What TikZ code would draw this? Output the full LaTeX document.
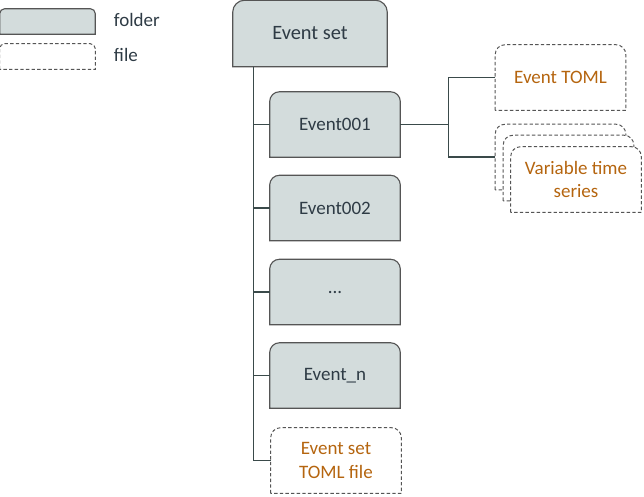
\documentclass[tikz,border=0pt]{standalone}
\usepackage{fontspec}
\setmainfont{Carlito}
\usepackage{xcolor}
\usetikzlibrary{positioning,calc,backgrounds}
\definecolor{foldfill}{HTML}{D3DCDC}
\definecolor{foldtext}{HTML}{2E3B45}
\definecolor{filetext}{HTML}{B5650F}
\definecolor{edgegray}{HTML}{555555}
\definecolor{treeline}{HTML}{3A4A4A}
\tikzset{%
	folder/.style = {rectangle, minimum width = 3.25cm, minimum height = 1.625cm,
		text = foldtext, align = center, font = \fontsize{13.5}{16.5}\selectfont},
	file/.style   = {folder, text = filetext},
	folderline/.style = {draw = edgegray, fill = foldfill, line width = 0.8pt},
	fileline/.style   = {draw = edgegray, fill = white, line width = 0.7pt,
		dash pattern = on 2.4pt off 1.6pt},
	tree/.style   = {draw = treeline, line width = 0.85pt}
}
\begin{document}
\begin{tikzpicture}[x=0.025cm, y=-0.025cm]
	\useasboundingbox (0,0) rectangle (644,496);
	% key
	\node [rectangle, minimum width=2.375cm, minimum height=0.625cm] (keyfolder) at (47.5,21.5) {};
	\node [rectangle, minimum width=2.375cm, minimum height=0.625cm] (keyfile) at (47.5,56.5) {};
	\node [anchor=west, text=foldtext, font=\fontsize{13.5}{16}\selectfont] (keyfoldertxt) at (109,20) {folder};
	\node [anchor=west, text=foldtext, font=\fontsize{13.5}{16}\selectfont] (keyfiletxt) at (109,55) {file};
	% tree of folders
	\node [folder, minimum width=3.85cm, minimum height=1.65cm, font=\fontsize{14.5}{17}\selectfont] (set) at (310,33.5) {\raisebox{-2pt}{Event set}};
	\node [folder] (ev1) at (335,124.5) {Event001};
	\node [folder] (ev2) at (335,208) {Event002};
	\node [folder] (dots) at (335,292) {...};
	\node [folder] (evn) at (335,375.5) {Event\_n};
	\node [file] (setfile) at (336,460.5) {Event set\\TOML file};
	% files of one event
	\node [file] (evtoml) at (560.5,77.5) {Event TOML};
	\node [file] (var1) at (560.5,157) {};
	\node [file] (var2) at (568.5,168) {};
	\node [file] (var3) at (576,179.5) {Variable time\\series};
	
	\begin{scope}[on background layer]
		\foreach \n/\r in {keyfolder/3.5pt, set/8.5pt, ev1/7pt, ev2/7pt, dots/7pt, evn/7pt}
			\draw[folderline] (\n.south west) -- ([yshift=-\r]\n.north west) arc[start angle=180, end angle=90, radius=\r]
				-- ([xshift=-\r]\n.north east) arc[start angle=90, end angle=0, radius=\r] -- (\n.south east) -- cycle;
		\foreach \n/\r in {keyfile/3.5pt, setfile/7pt, evtoml/7pt, var1/7pt, var2/7pt, var3/7pt}
			\draw[fileline] (\n.south west) -- ([yshift=-\r]\n.north west) arc[start angle=180, end angle=90, radius=\r]
				-- ([xshift=-\r]\n.north east) arc[start angle=90, end angle=0, radius=\r] -- (\n.south east) -- cycle;
	\end{scope}
	
	\coordinate (trunk) at ([xshift=0.525cm]set.south west);
	\draw[tree] (trunk) |- (setfile.west);
	\foreach \n in {ev1, ev2, dots, evn}
		\draw[tree] (\n.west -| trunk) -- (\n.west);
	\draw[tree] (ev1.east) -- ++(48,0) coordinate (fork);
	\draw[tree] (evtoml.west) -| (fork) |- (var1.west);
\end{tikzpicture}
\end{document}
